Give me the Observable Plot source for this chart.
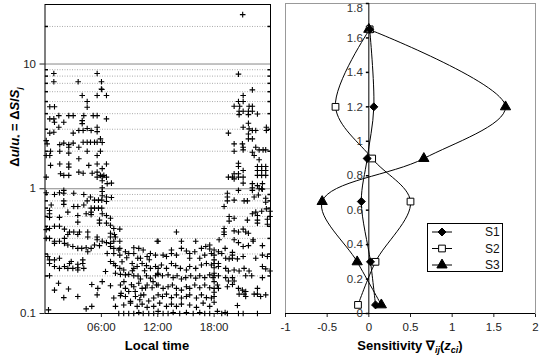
<!DOCTYPE html>
<html><head><meta charset="utf-8">
<script src="https://cdn.jsdelivr.net/npm/d3@7"></script>
<script src="https://cdn.jsdelivr.net/npm/@observablehq/plot@0.6"></script>
<style>
body{margin:0;background:#fff;}
#fig{position:relative;width:542px;height:360px;font-family:Arial,"Liberation Sans",sans-serif;}
#fig svg{position:absolute;top:0;overflow:visible}
</style></head><body><div id="fig"></div>
<script>
// ---------- Left panel: [local hour, Δu/u*] ----------
const earlyNightHigh = [[0.94,8.4],[5.55,8.4],[0.94,7.2],[3.53,7.2],[6.01,7.2],[6.0,6.3],[6.05,6.25],[3.96,5.6],[5.55,5.6],[6.54,5.6],
[4.49,5.0],[4.49,4.5],[0.51,4.55],[1.01,4.55],[1.47,3.86],[2.53,3.86],[3.0,3.86],[4.13,3.86],[5.13,3.86],[5.55,3.86],
[0.51,3.63],[0.94,3.63],[1.01,3.41],[2.0,3.41],[3.96,3.52],[3.96,3.33],[6.54,3.63],[1.47,3.11],[0.51,2.79],[0.94,2.84],
[3.0,2.79],[3.6,2.93],[4.06,2.93],[4.49,3.04],[4.91,2.93],[5.55,3.11],[5.55,2.87],[0.23,2.29],[1.57,2.26],[2.0,2.32],
[2.53,2.26],[2.53,2.15],[3.0,2.32],[3.6,2.15],[4.06,2.36],[4.49,2.36],[4.84,2.36],[5.27,2.36],[5.55,2.36],[5.9,2.51],
[0.59,2.0],[1.57,2.0],[2.53,1.93],[4.49,2.0],[5.9,2.0],[0.51,1.85],[3.6,1.74],[5.55,1.85],[0.59,1.54],[1.57,1.58],
[2.53,1.58],[2.53,1.49],[4.66,1.54],[5.55,1.58],[6.54,1.58],[1.65,1.32],[2.0,1.28],[2.53,1.28],[3.6,1.36],[4.06,1.33],
[5.02,1.33],[5.55,1.36],[5.9,1.28],[6.26,1.28],[5.55,1.24],[6.09,2.35],[6.09,1.45],[6.09,1.25],[6.54,1.24],[6.09,1.16],
[6.62,1.10],[7.07,1.11],[6.09,1.02],[0.13,2.43],[0.13,1.85],[0.13,1.24]];
const earlyNightLow = [[1.54,0.93],[2.0,0.97],[2.0,0.92],[3.06,0.92],[4.13,0.90],[0.13,0.93],[1.01,0.90],[4.84,0.86],[5.27,0.81],[5.69,0.81],
[6.04,0.81],[2.0,0.80],[2.0,0.75],[4.49,0.80],[0.66,0.74],[3.06,0.72],[3.49,0.72],[4.13,0.74],[4.91,0.70],[5.27,0.70],
[5.69,0.70],[6.04,0.70],[0.48,0.67],[0.48,0.63],[4.91,0.65],[4.91,0.62],[2.43,0.65],[3.49,0.61],[4.38,0.63],[1.54,0.59],
[0.48,0.59],[3.49,0.54],[5.8,0.56],[5.8,0.53],[0.48,0.48],[0.13,0.47],[1.01,0.50],[1.54,0.50],[2.07,0.475],[2.61,0.45],
[3.06,0.45],[3.67,0.45],[4.55,0.45],[2.43,0.43],[3.49,0.43],[4.55,0.41],[0.13,0.40],[0.48,0.40],[2.07,0.40],[5.55,0.41],
[5.55,0.39],[1.01,0.38],[1.01,0.365],[1.54,0.38],[2.07,0.365],[2.43,0.354],[2.96,0.344],[3.49,0.333],[3.91,0.333],[4.38,0.337],
[4.91,0.333],[5.27,0.354],[5.8,0.35],[4.55,0.313],[0.3,0.286],[0.48,0.269],[1.01,0.269],[1.54,0.277],[0.48,0.252],[2.79,0.261],
[2.07,0.238],[2.61,0.252],[1.01,0.238],[1.54,0.23],[2.43,0.23],[2.96,0.23],[3.49,0.233],[4.13,0.23],[3.49,0.248],[3.49,0.223],
[4.02,0.269],[4.02,0.252],[0.48,0.201],[1.44,0.175],[4.98,0.171],[5.62,0.159],[1.01,0.154],[2.5,0.157],[5.55,0.141],[2.0,0.134],
[3.49,0.137],[0.37,0.107],[4.38,0.109],[4.98,0.114]];
const morning = [[6.09,0.95],[6.09,0.88],[6.54,0.86],[6.54,0.79],[7.07,0.85],[6.09,0.63],[6.54,0.61],[6.97,0.58],[6.54,0.53],[6.97,0.51],
[7.32,0.48],[7.96,0.475],[6.97,0.44],[7.39,0.43],[6.97,0.41],[7.5,0.41],[6.09,0.38],[6.54,0.37],[6.97,0.365],[7.32,0.38],
[7.96,0.38],[6.97,0.344],[7.32,0.333],[7.85,0.323],[7.96,0.333],[8.56,0.313],[8.91,0.303],[9.45,0.337],[9.98,0.333],[10.45,0.323],
[11.94,0.38],[6.62,0.303],[7.32,0.303],[7.96,0.294],[9.45,0.303],[9.87,0.277],[10.16,0.277],[10.87,0.286],[11.22,0.303],[11.76,0.294],
[6.97,0.261],[7.32,0.252],[7.5,0.242],[7.96,0.23],[8.38,0.223],[9.28,0.252],[9.45,0.23],[9.81,0.238],[10.34,0.252],[10.8,0.242],
[11.22,0.23],[11.76,0.238],[6.44,0.217],[7.5,0.21],[8.03,0.206],[8.56,0.204],[8.91,0.206],[9.45,0.201],[10.16,0.189],[10.8,0.201],
[11.22,0.192],[11.76,0.201],[12.0,0.21],[6.09,0.18],[6.97,0.167],[8.03,0.169],[8.56,0.159],[8.91,0.15],[9.45,0.164],[9.98,0.175],
[10.34,0.159],[10.87,0.169],[11.4,0.161],[11.86,0.169],[7.32,0.133],[8.03,0.139],[8.56,0.137],[9.1,0.125],[9.63,0.137],[10.09,0.129],
[10.51,0.141],[11.04,0.126],[11.57,0.133],[7.5,0.114],[8.38,0.117],[9.1,0.121],[9.81,0.114],[10.34,0.119],[10.87,0.112],[11.57,0.114],
[7.85,0.1],[8.38,0.1],[8.91,0.1],[9.45,0.1],[9.98,0.102],[10.45,0.1],[11.04,0.1],[11.57,0.1],
[8.2,0.26],[8.7,0.28],[9.3,0.22],[9.9,0.2],[10.6,0.22],[11.1,0.27],[8.4,0.18],[9.6,0.15],[10.2,0.14],[11.5,0.18],[8.1,0.145],[9.2,0.17],[10.7,0.16]];
const afternoon = [[13.99,0.45],[12.04,0.38],[14.52,0.38],[16.04,0.38],[17.53,0.354],[17.53,0.329],[17.11,0.344],[16.65,0.333],[14.52,0.333],[15.05,0.317],
[15.4,0.303],[15.94,0.313],[13.46,0.323],[13.46,0.303],[12.57,0.294],[12.93,0.286],[13.99,0.294],[15.4,0.277],[16.47,0.277],[17.0,0.294],
[17.71,0.303],[12.04,0.23],[12.39,0.245],[12.93,0.23],[13.46,0.252],[13.91,0.242],[14.41,0.23],[15.05,0.223],[15.4,0.238],[16.04,0.23],
[16.65,0.245],[17.18,0.252],[17.71,0.245],[12.04,0.206],[12.5,0.201],[13.1,0.204],[13.64,0.194],[14.06,0.201],[14.52,0.189],[14.98,0.194],
[15.51,0.201],[16.04,0.192],[16.47,0.201],[17.0,0.194],[17.53,0.204],[17.89,0.194],[12.04,0.169],[12.57,0.159],[13.1,0.164],[13.56,0.169],
[13.99,0.159],[14.52,0.154],[15.05,0.164],[15.4,0.159],[15.94,0.169],[16.47,0.161],[17.0,0.169],[17.53,0.161],[12.04,0.141],[12.5,0.137],
[12.93,0.143],[13.46,0.134],[13.99,0.141],[14.52,0.133],[15.05,0.137],[15.4,0.141],[16.12,0.133],[16.65,0.141],[17.18,0.134],[17.71,0.133],
[12.21,0.121],[12.93,0.114],[13.46,0.119],[13.99,0.114],[14.52,0.119],[15.4,0.117],[16.12,0.112],[16.83,0.121],[17.53,0.114],[12.04,0.104],
[12.57,0.1],[13.1,0.1],[13.64,0.102],[14.34,0.1],[15.05,0.102],[15.77,0.1],[16.47,0.102],[17.0,0.1],[17.53,0.1]];
const lateNightHigh = [[21.04,24.9],[20.59,8.3],[22.07,6.2],[21.09,5.6],[20.59,5.0],[21.09,5.0],[20.13,4.58],[20.72,4.58],[21.72,4.58],[22.07,4.58],
[20.66,4.18],[21.09,4.18],[21.65,4.18],[22.07,4.18],[22.61,3.98],[20.66,3.93],[21.65,3.93],[21.65,3.35],[21.09,3.11],[21.72,3.02],
[22.07,2.93],[22.43,2.93],[23.56,3.11],[23.56,2.93],[19.52,2.79],[21.65,2.75],[21.65,2.51],[22.07,2.51],[20.13,2.29],[21.01,2.29],
[21.09,2.15],[22.43,2.15],[22.79,2.05],[23.21,2.05],[23.49,2.05],[20.13,2.0],[21.09,2.05],[22.07,1.96],[22.26,1.85],[22.79,1.71],
[20.59,1.6],[20.59,1.51],[22.61,1.51],[23.06,1.51],[23.49,1.51],[21.09,1.40],[20.13,1.32],[20.59,1.32],[22.61,1.40],[23.06,1.40],
[23.49,1.40],[22.61,1.28],[23.06,1.28],[23.49,1.28],[19.52,1.24],[19.95,1.24],[20.13,1.20],[20.59,1.24],[21.09,1.24],[21.09,1.11],
[22.07,1.10],[22.61,1.06],[23.14,1.10],[23.06,1.0],[22.07,1.02]];
const lateNightLow = [[19.41,0.92],[19.41,0.86],[19.41,0.80],[20.13,0.81],[21.19,0.80],[21.54,0.80],[22.26,0.86],[22.71,0.89],[23.49,0.84],[23.49,0.78],
[20.59,0.97],[22.07,0.97],[22.79,1.0],[23.14,0.99],[19.06,0.72],[22.07,0.63],[22.43,0.65],[22.61,0.61],[22.61,0.56],[22.61,0.53],
[23.06,0.66],[23.56,0.69],[23.95,0.66],[19.6,0.60],[19.6,0.55],[20.13,0.58],[21.54,0.56],[23.67,0.57],[23.67,0.52],[23.95,0.60],
[19.06,0.48],[19.06,0.45],[19.06,0.43],[20.13,0.46],[20.59,0.45],[21.09,0.475],[21.36,0.45],[21.65,0.44],[18.53,0.39],[20.13,0.39],
[20.59,0.37],[22.15,0.39],[22.15,0.38],[21.09,0.344],[21.65,0.35],[23.14,0.35],[19.17,0.333],[18.0,0.323],[18.46,0.313],[18.81,0.303],
[18.0,0.294],[19.95,0.309],[19.95,0.294],[19.95,0.277],[19.23,0.277],[19.6,0.274],[20.48,0.274],[21.09,0.286],[22.43,0.277],[23.14,0.294],
[23.67,0.286],[18.0,0.269],[18.0,0.252],[18.0,0.233],[18.46,0.252],[18.46,0.238],[19.23,0.23],[19.52,0.219],[20.13,0.223],[20.66,0.219],
[21.19,0.23],[21.72,0.219],[23.14,0.238],[23.49,0.228],[23.95,0.219],[18.0,0.21],[18.0,0.201],[18.46,0.201],[19.23,0.194],[19.95,0.194],
[19.52,0.182],[20.13,0.182],[21.36,0.201],[22.0,0.201],[23.14,0.194],[18.0,0.18],[18.35,0.169],[19.41,0.164],[19.95,0.171],[18.0,0.159],
[18.46,0.159],[18.0,0.148],[18.0,0.137],[20.59,0.159],[21.01,0.154],[21.19,0.143],[21.36,0.137],[20.66,0.143],[22.26,0.143],[22.61,0.143],
[22.61,0.159],[22.95,0.137],[23.49,0.141],[21.36,0.15],[20.48,0.116],[18.0,0.123],[18.35,0.104],[18.81,0.1],[19.17,0.102],[19.41,0.1],
[20.59,0.1],[21.09,0.1],[22.61,0.1]];
const timeTicks = [6, 12, 18];
const logTicks = [0.1, 1, 10];
const majorGrid = [1, 10];
const minorGrid = [0.2,0.3,0.4,0.5,0.6,0.7,0.8,0.9,2,3,4,5,6,7,8,9,20];

// ---------- Right panel: sensitivity profiles ----------
const heights = [0.05, 0.3, 0.65, 0.9, 1.2, 1.65];
const s1 = [0.08, 0.02, -0.09, -0.02, 0.06, 0.01];
const s2 = [-0.13, 0.08, 0.5, 0.04, -0.4, 0.01];
const s3 = [0.15, -0.14, -0.56, 0.66, 1.64, 0.0];
const seriesNames = ["S1", "S2", "S3"];
const sensTicksX = [-1, -0.5, 0, 0.5, 1, 1.5, 2];
const sensTicksY = [0, 0.2, 0.4, 0.6, 0.8, 1, 1.2, 1.4, 1.6, 1.8];

const FONT = "Arial, 'Liberation Sans', sans-serif";
const plusSym = {draw(ctx, size){const s = Math.sqrt(size/Math.PI); ctx.moveTo(-s,0); ctx.lineTo(s,0); ctx.moveTo(0,-s); ctx.lineTo(0,s);}};
const tickRight = {draw(ctx, size){const s = Math.sqrt(size/Math.PI); ctx.moveTo(0,0); ctx.lineTo(s,0);}};
const tickLeft = {draw(ctx, size){const s = Math.sqrt(size/Math.PI); ctx.moveTo(0,0); ctx.lineTo(-s,0);}};

const allPts = [...earlyNightHigh, ...earlyNightLow, ...morning, ...afternoon, ...lateNightHigh, ...lateNightLow];

const left = Plot.plot({
  width: 275, height: 360,
  marginLeft: 44.5, marginRight: 5, marginTop: 4, marginBottom: 47,
  style: {fontFamily: FONT, fontSize: "11.5px", color: "#222", background: "transparent"},
  x: {domain: [0, 24], ticks: timeTicks, tickFormat: d => String(d).padStart(2, "0") + ":00", tickSize: 4, label: null},
  y: {type: "log", domain: [0.1, 30], ticks: logTicks, tickFormat: d => d < 1 ? "0.1" : String(d), tickSize: 5, label: null},
  marks: [
    Plot.ruleY(minorGrid, {stroke: "#aaa", strokeDasharray: "1,1.5"}),
    Plot.ruleY(majorGrid, {stroke: "#888"}),
    Plot.dot(minorGrid, {y: d => d, frameAnchor: "left", symbol: tickRight, r: 3, stroke: "black", fill: "none"}),
    Plot.dot(minorGrid, {y: d => d, frameAnchor: "right", symbol: tickLeft, r: 3, stroke: "black", fill: "none"}),
    Plot.dot(allPts, {x: d => d[0], y: d => d[1], symbol: plusSym, r: 2.8, stroke: "black", strokeWidth: 1.1, fill: "none"}),
    Plot.frame({stroke: "black"})
  ]
});
left.style.left = "0px";

const sens = [];
heights.forEach((h, i) => {
  sens.push({series: "S1", z: h, v: s1[i]});
  sens.push({series: "S2", z: h, v: s2[i]});
  sens.push({series: "S3", z: h, v: s3[i]});
});
const symFor = {S1: "diamond2", S2: "square", S3: "triangle"};
const fillFor = {S1: "black", S2: "white", S3: "black"};
const rFor = {S1: 3.6, S2: 3.8, S3: 3.8};
const drawOrder = ["S3", "S2", "S1"];
const yFmt = d => String(+d.toFixed(1));

const right = Plot.plot({
  width: 267, height: 360,
  marginLeft: 10, marginRight: 7, marginTop: 3, marginBottom: 47,
  style: {fontFamily: FONT, fontSize: "11.5px", color: "#222", background: "transparent"},
  x: {domain: [-1, 2], ticks: sensTicksX, tickFormat: d => String(d), tickSize: 4, label: null},
  y: {domain: [0, 1.8], axis: null},
  marks: [
    Plot.frame({stroke: "#999"}),
    Plot.ruleY([0], {stroke: "black"}),
    Plot.ruleX([0], {stroke: "black"}),
    Plot.dot(sensTicksY, {x: () => 0, y: d => d, symbol: tickLeft, r: 3, stroke: "black", fill: "none"}),
    Plot.text(sensTicksY.slice(0, -1), {x: () => 0, y: d => d, text: yFmt, textAnchor: "end", dx: -6, fontSize: 11.5, fill: "#333"}),
    Plot.text(sensTicksY.slice(-1), {x: () => 0, y: d => d, text: yFmt, textAnchor: "end", dx: -6, dy: 5, fontSize: 11.5, fill: "#333"}),
    ...seriesNames.map(s => Plot.line(sens.filter(d => d.series === s), {x: "v", y: "z", curve: "catmull-rom", stroke: "black", strokeWidth: 1})),
    ...drawOrder.map(s => Plot.dot(sens.filter(d => d.series === s), {x: "v", y: "z", symbol: symFor[s], r: rFor[s], fill: fillFor[s], stroke: "black", strokeWidth: 1}))
  ]
});
right.style.left = "275px";

const fig = document.getElementById("fig");
fig.appendChild(left);
fig.appendChild(right);

// ---------- Titles and legend overlay ----------
const ov = d3.select(fig).append("svg").attr("width", 542).attr("height", 360)
  .style("left", "0px").style("font-family", FONT);
const yl = ov.append("text").attr("transform", "translate(19,127) rotate(-90)")
  .attr("text-anchor", "middle").attr("font-size", 13).attr("font-weight", "bold");
yl.append("tspan").text("Δ");
yl.append("tspan").attr("font-style", "italic").text("u");
yl.append("tspan").text("/");
yl.append("tspan").attr("font-style", "italic").text("u");
yl.append("tspan").attr("font-size", 8).attr("dy", 3).text("*");
yl.append("tspan").attr("dy", -3).text(" = Δ");
yl.append("tspan").attr("font-style", "italic").text("S");
yl.append("tspan").text("/");
yl.append("tspan").attr("font-style", "italic").text("S");
yl.append("tspan").attr("font-size", 8).attr("dy", 3).attr("font-style", "italic").text("j");

ov.append("text").attr("x", 157).attr("y", 350).attr("text-anchor", "middle")
  .attr("font-size", 13).attr("font-weight", "bold").text("Local time");
const xl = ov.append("text").attr("x", 410).attr("y", 350).attr("text-anchor", "middle")
  .attr("font-size", 13).attr("font-weight", "bold");
xl.append("tspan").text("Sensitivity ∇");
xl.append("tspan").attr("font-size", 9).attr("dy", 3).attr("font-style", "italic").text("ij");
xl.append("tspan").attr("dy", -3).text("(");
xl.append("tspan").attr("font-style", "italic").text("z");
xl.append("tspan").attr("font-size", 9).attr("dy", 3).attr("font-style", "italic").text("ci");
xl.append("tspan").attr("dy", -3).text(")");

// legend
const lg = ov.append("g");
lg.append("rect").attr("x", 427.5).attr("y", 223.5).attr("width", 75).attr("height", 48)
  .attr("fill", "white").attr("stroke", "black");
seriesNames.forEach((s, i) => {
  const y = 232 + i * 16.5;
  lg.append("line").attr("x1", 432).attr("x2", 452).attr("y1", y).attr("y2", y).attr("stroke", "black");
  const sym = {S1: d3.symbolDiamond2, S2: d3.symbolSquare, S3: d3.symbolTriangle}[s];
  lg.append("path").attr("d", d3.symbol(sym, rFor[s] * rFor[s] * Math.PI)())
    .attr("transform", `translate(442,${y})`).attr("fill", fillFor[s]).attr("stroke", "black");
  lg.append("text").attr("x", 485).attr("y", y + 4).attr("font-size", 12).attr("fill", "#111").text(s);
});
</script></body></html>
